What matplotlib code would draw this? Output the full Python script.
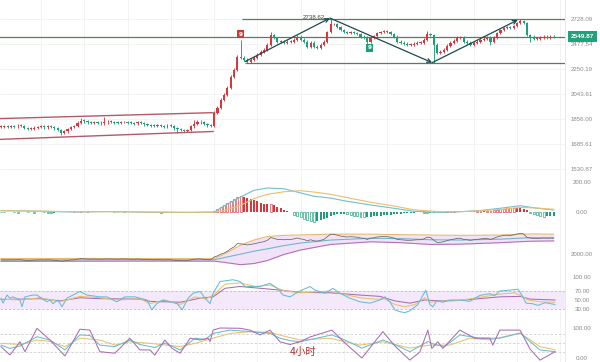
import matplotlib
matplotlib.use("Agg")
import matplotlib.pyplot as plt
from matplotlib.transforms import blended_transform_factory

# ---------------- data ----------------
closes = [
    1803, 1806, 1800, 1808, 1804, 1810, 1806,
    1792, 1785, 1788, 1795, 1800,
    1803, 1798, 1806, 1800, 1790, 1778,
    1762, 1770, 1785,
    1800, 1806,
    1830, 1845, 1840,
    1832, 1828, 1835, 1830, 1826,
    1832, 1838, 1835, 1830, 1828, 1834, 1836, 1830, 1828, 1825, 1832, 1828,
    1818, 1815, 1810, 1806, 1812, 1808, 1804, 1810, 1806,
    1790, 1783, 1778, 1772, 1780,
    1805, 1822, 1838, 1832,
    1820, 1812, 1806,
    1902, 1940, 2000, 2039, 2095, 2185, 2245, 2360, 2351, 2333,
    2315, 2333, 2351, 2378, 2405, 2424, 2471, 2566, 2537, 2500,
    2500, 2490, 2500, 2500, 2519, 2549, 2519, 2500, 2452, 2490,
    2452, 2443, 2471, 2500, 2595, 2676, 2676, 2646, 2615, 2595,
    2585, 2595, 2585, 2576, 2549, 2540, 2500, 2540, 2557, 2585,
    2595, 2605, 2595, 2576, 2549, 2500, 2490, 2480, 2471, 2471,
    2480, 2490, 2490, 2519, 2576, 2566, 2471, 2396, 2405, 2424,
    2462, 2490, 2510, 2540, 2540, 2500, 2490, 2471, 2490, 2500,
    2519, 2530, 2540, 2500, 2540, 2585, 2615, 2635, 2646, 2635,
    2656, 2687, 2707, 2687, 2566, 2549, 2530, 2530, 2540, 2549,
    2540, 2549, 2545,
]
first_open = 1800
high_marks = {24: 1866, 31: 1870, 58: 1850, 72: 2519, 81: 2590, 99: 2738,
              115: 2620, 128: 2600, 147: 2560, 156: 2725}
low_marks = {18: 1748, 53: 1760, 92: 2440, 110: 2480, 130: 2306, 131: 2380,
             147: 2470, 159: 2500}

price_ticks = [1530.87, 1685.61, 1856.00, 2043.61, 2250.19, 2477.54, 2728.09]
last_price = 2549.87
level_top = 2728.09
level_bottom = 2306
peak_label = "2738.62"

channel_x = [-0.3, 63.7]
channel_upper = [1859, 1902]
channel_lower = [1716, 1769]

arrow_x = [73.3, 98.8, 129.5, 155.2]
arrow_p = [2315, 2738, 2306, 2718]

# MACD
macd_x = [0, 12, 21, 33, 45, 57, 64, 67, 72, 76, 80, 85, 90, 94, 99, 103, 111,
          118, 124, 132, 138, 144, 150, 156, 160, 166]
dif = [10, 5, 0, 3, -2, -3, 0, 40, 100, 145, 160, 155, 127, 105, 93, 75, 47,
       25, 5, -3, 2, 10, 25, 42, 28, 13]
dea = [8, 6, 2, 2, 0, -2, -1, 10, 45, 90, 118, 135, 142, 133, 118, 100, 65,
       40, 15, 2, 2, 8, 18, 30, 28, 18]
hist = ([-2, -3, -3, -2, -3, -4, -3, -2, -3, -3, -4, -3, -2, -3, -4, -5, -4, -3, -3, -2, -2, -1]
        + [1, 2, 3, 3, 4, 4, 3, 3, 2, 2, 1, 1]
        + [-1, -2, -2, -3, -3, -2, -2, -3, -3, -2, -2, -2, -3, -3, -4, -4, -3, -3, -2]
        + [-2, -1, -1, 1, 2, 3, 3, 2, 2, 1, 2]
        + [8, 18, 30, 45, 60, 75, 88, 100, 107, 100, 92, 85, 78, 70, 63, 56, 50, 52, 45, 35, 25, 15, 8, 2]
        + [-20, -28, -35, -45, -55, -60, -65, -62]
        + [-55, -48, -40, -30]
        + [-20, -15, -12, -12, -15]
        + [-20, -25, -30, -33, -35, -35]
        + [-33, -30, -28, -25, -22, -20, -18, -15]
        + [-13, -12, -10, -8, -6, -4]
        + [-3, -2, -5, -8, -6, -4, -3, -1]
        + [2, 4, 6, 8, 8, 7, 6, 5]
        + [4, 4, 5, 6, 6, 7, 8, 10]
        + [13, 17, 20, 24, 27, 28, 27, 26, 22]
        + [12, -5, -15, -22, -28, -31, -30, -28, -25])

# Bollinger
boll_x = [0, 21, 45, 60, 64, 67, 72, 76, 80, 85, 90, 99, 111, 120, 129, 138, 150, 159, 166]
boll_up = [1850, 1852, 1848, 1845, 1850, 2000, 2310, 2480, 2600, 2640, 2655, 2680,
           2680, 2665, 2650, 2640, 2650, 2690, 2680]
boll_mid = [1800, 1805, 1808, 1805, 1805, 1880, 2000, 2100, 2180, 2290, 2380, 2480,
            2540, 2530, 2490, 2480, 2510, 2560, 2555]
boll_low = [1755, 1758, 1762, 1760, 1760, 1720, 1640, 1680, 1780, 1990, 2140, 2330,
            2420, 2390, 2330, 2340, 2390, 2440, 2450]

# RSI
rsi6_x = [0, 0.6, 1.8, 2.7, 3.6, 5.7, 6.3, 7.2, 9.6, 10.8, 13.8, 14.7, 15.6, 17.1, 18.3,
          19.8, 23.7, 25.8, 29.7, 31.8, 34.8, 37.2, 40.2, 43.8, 45.3, 46.8, 48.6, 50.8,
          52.9, 54.4, 56.2, 57.7, 59.8, 61.3, 62.8, 63.7, 65.8, 69.7, 71.8, 73.3, 77.8,
          80.8, 82.9, 84.7, 86.8, 89.8, 92.8, 94.3, 97.3, 99.7, 101.8, 104.8, 107.8,
          110.8, 113.8, 115.3, 116.8, 118.3, 119.8, 121.3, 122.8, 125.2, 126.7, 127.6,
          128.8, 129.7, 130.9, 132.7, 134.8, 137.8, 140.8, 143.8, 146.8, 148.3, 149.8,
          152.9, 155.3, 156.5, 157.7, 159.5, 161.3, 163.4, 166.4]
rsi6 = [54, 43, 61, 54, 57, 50, 35, 57, 61, 61, 46, 50, 42, 50, 35,
        54, 69, 61, 57, 57, 46, 57, 57, 50, 28, 42, 50, 46,
        42, 28, 54, 65, 69, 54, 42, 65, 91, 95, 91, 80, 80,
        87, 76, 61, 57, 70, 80, 72, 65, 76, 65, 54, 46,
        43, 50, 57, 46, 28, 24, 22, 26, 40, 60, 72,
        40, 35, 48, 45, 50, 50, 47, 60, 64, 60, 70,
        72, 74, 60, 43, 42, 38, 44, 40]
rsi12_x = [0, 5.7, 11.7, 17.7, 23.7, 29.7, 35.7, 41.7, 44.7, 49.2, 53.8, 58.3, 61.3,
           63.7, 67.3, 71.8, 76.3, 80.8, 85.3, 89.8, 94.3, 98.8, 103.3, 107.8, 112.3,
           115.3, 118.3, 121.3, 124.3, 127.3, 128.8, 131.8, 137.8, 143.8, 149.8,
           154.4, 156.5, 158.3, 161.9, 166.4]
rsi12 = [52, 50, 55, 46, 58, 55, 50, 53, 42, 50, 40, 57, 52,
         60, 85, 88, 80, 83, 70, 66, 68, 70, 62, 55, 52,
         52, 40, 35, 40, 55, 45, 47, 49, 56, 63,
         66, 58, 50, 46, 45]
rsi24_x = [0, 11.7, 17.7, 23.7, 29.7, 41.7, 44.7, 53.8, 59.8, 63.7, 67.3, 71.8, 77.8,
           83.8, 89.8, 98.8, 107.8, 113.8, 118.3, 122.8, 127.3, 131.8, 137.8, 143.8,
           149.8, 155.9, 158.9, 166.4]
rsi24 = [51, 53, 48, 55, 53, 52, 47, 45, 54, 57, 76, 80, 76,
         72, 67, 66, 61, 58, 48, 43, 50, 48, 49, 53,
         57, 58, 52, 50]

# KDJ
j_x = [0, 2.7, 5.7, 7.2, 10.8, 14.7, 19.2, 23.7, 26.7, 29.7, 34.2, 38.7, 41.7, 44.7,
       46.2, 49.2, 51.4, 53.8, 56.8, 59.8, 62.2, 62.8, 63.7, 65.8, 71.8, 74.8, 77.8,
       80.8, 83.8, 86.8, 89.8, 92.8, 99.4, 103.3, 108.4, 114.7, 118.3, 122.8, 125.8,
       128.2, 129.4, 131.2, 132.7, 137.8, 142.3, 146.8, 147.7, 149.8, 154.9, 155.9,
       158.9, 161.9, 166.4]
kdj_j = [38, 10, 54, 21, 99, 60, 7, 96, 93, 21, 16, 66, 27, 27,
         10, 60, 32, 16, 66, 60, 66, 55, 93, 100, 99, 93, 77,
         93, 54, 45, 54, 70, 93, 50, 0, 88, 40, -7, 20,
         93, 32, 54, 32, 93, 66, 66, 43, 93, 93, 93,
         30, -7, 21]
k_x = [0, 2.7, 5.7, 10.8, 14.7, 19.2, 23.7, 26.7, 29.7, 34.2, 38.7, 41.7, 46.2, 49.2,
       53.8, 58.3, 61.3, 63.7, 68.8, 74.8, 80.8, 83.8, 86.8, 89.8, 99.4, 103.3, 108.4,
       114.7, 118.3, 122.8, 128.2, 130.3, 133.3, 137.8, 143.8, 149.8, 155.9, 158.9,
       161.9, 166.4]
kdj_k = [43, 32, 40, 71, 60, 27, 77, 75, 43, 38, 60, 45, 35, 50,
         27, 66, 62, 82, 93, 88, 82, 66, 58, 54, 77, 60, 33,
         60, 45, 21, 55, 45, 38, 77, 66, 66, 83, 55,
         27, 21]
d_x = [0, 5.7, 10.8, 14.7, 19.2, 23.7, 29.7, 34.2, 38.7, 44.7, 53.8, 58.3, 63.7, 68.8,
       74.8, 80.8, 86.8, 89.8, 98.8, 107.8, 114.7, 122.8, 128.8, 134.8, 140.8, 146.8,
       155.9, 161.9, 166.4]
kdj_d = [49, 45, 60, 55, 38, 66, 60, 43, 54, 49, 38, 49, 66, 82,
         88, 85, 68, 60, 66, 43, 54, 33, 43, 43, 66, 60,
         83, 38, 27]

# ---------------- figure ----------------
W, H = 600, 362
fig = plt.figure(figsize=(W / 100, H / 100), dpi=100)
fig.patch.set_facecolor("white")
PLOT_R = 565
XLIM = (-0.3, 169.4)
LABEL_FONT = dict(family="Liberation Sans", size=4.4)
PAD = (582 - PLOT_R) * 0.72

RED = "#d9363e"
GREEN = "#1f9e7a"
GRID = "#f1f1f1"


def pane(top, bottom):
    ax = fig.add_axes([0, 1 - bottom / H, PLOT_R / W, (bottom - top) / H])
    ax.set_xlim(*XLIM)
    for s in ["top", "left", "bottom"]:
        ax.spines[s].set_visible(False)
    ax.spines["right"].set_color("#e4e4e4")
    ax.spines["right"].set_linewidth(0.6)
    ax.yaxis.tick_right()
    ax.tick_params(axis="y", length=0, pad=PAD, labelcolor="#8a8a8a")
    ax.set_xticks([])
    for gx in range(12, 170, 13):
        ax.axvline(gx, color=GRID, lw=0.6, zorder=0)
    return ax


def style_labels(ax):
    for lab in ax.get_yticklabels():
        lab.set_horizontalalignment("center")
        lab.set_fontfamily(LABEL_FONT["family"])
        lab.set_fontsize(LABEL_FONT["size"])


n = len(closes)
idx = list(range(n))
opens = [first_open] + closes[:-1]

# ---- main price pane ----
ax = pane(0, 176)
ax.set_yscale("log")
ax.set_ylim(1490.2, 2935.3)
ax.set_yticks(price_ticks)
ax.set_yticklabels([f"{t:.2f}" for t in price_ticks])
ax.yaxis.set_minor_locator(matplotlib.ticker.NullLocator())
style_labels(ax)
for t in price_ticks:
    ax.axhline(t, color=GRID, lw=0.6, zorder=0)

for i in idx:
    o, c = opens[i], closes[i]
    col = RED if c >= o else GREEN
    hi = high_marks.get(i, max(o, c) * 1.005)
    lo = low_marks.get(i, min(o, c) * 0.995)
    ax.vlines(i, lo, hi, color=col, lw=0.65, zorder=3)
    body = max(abs(c - o), 6.0)
    ax.bar(i, body, bottom=min(o, c) - (body - abs(c - o)) / 2, width=0.66,
           color=col, zorder=3, linewidth=0)

# channel
ax.plot(channel_x, channel_upper, color="#b45a66", lw=1.0, zorder=4)
ax.plot(channel_x, channel_lower, color="#b45a66", lw=1.0, zorder=4)
# horizontal levels
LEVEL = "#5e7c4c"
ax.axhline(last_price, color=LEVEL, lw=0.9, zorder=2)
ax.hlines(level_top, 72.4, XLIM[1], color=LEVEL, lw=0.9, zorder=2)
ax.hlines(level_bottom, 73.3, XLIM[1], color=LEVEL, lw=0.9, zorder=2)
# arrows
for k in range(3):
    ax.annotate("", xy=(arrow_x[k + 1], arrow_p[k + 1]),
                xytext=(arrow_x[k], arrow_p[k]),
                arrowprops=dict(arrowstyle="->", color="#1d4a4c", lw=0.9,
                                shrinkA=0, shrinkB=0, mutation_scale=7),
                zorder=5)
ax.text(97.2, 2722, peak_label, ha="right", va="bottom", color="#444444",
        fontsize=4.4, family="Liberation Sans", zorder=6)
# TD markers
ax.text(72, 2572, "9", ha="center", va="center", color="white", fontsize=4.2,
        fontweight="bold", bbox=dict(boxstyle="square,pad=0.25", fc="#cc3a3a", ec="none"),
        zorder=6)
ax.text(110.8, 2440, "9", ha="center", va="center", color="white", fontsize=4.2,
        fontweight="bold", bbox=dict(boxstyle="square,pad=0.25", fc="#1f9e7a", ec="none"),
        zorder=6)
# current price tag
tr = blended_transform_factory(ax.transAxes, ax.transData)
ax.text(582.5 / PLOT_R, last_price, f"{last_price:.2f}", transform=tr, ha="center",
        va="center", color="white", fontsize=4.6, family="Liberation Sans",
        fontweight="bold", clip_on=False, zorder=8,
        bbox=dict(boxstyle="square,pad=0.45", fc="#23a07c", ec="none"))

# ---- MACD pane ----
axm = pane(176, 225)
axm.set_ylim(-86.7, 240)
axm.set_yticks([0, 200])
axm.set_yticklabels(["0.00", "200.00"])
style_labels(axm)
prev = 0
for i, h in enumerate(hist):
    if h >= 0:
        col = RED
        hollow = h > prev
    else:
        col = GREEN
        hollow = h < prev
    hv = h if abs(h) > 1 else (1.5 if h >= 0 else -1.5)
    if hollow:
        axm.bar(i, hv, width=0.55, facecolor="white", edgecolor=col, lw=0.45, zorder=3)
    else:
        axm.bar(i, hv, width=0.6, color=col, lw=0, zorder=3)
    prev = h
axm.plot(macd_x, dif, color="#6fc0cf", lw=0.8, zorder=4)
axm.plot(macd_x, dea, color="#e9bf6e", lw=0.8, zorder=4)

# ---- Bollinger pane ----
axb = pane(225, 276)
axb.set_ylim(1254, 2993)
axb.set_yticks([2000])
axb.set_yticklabels(["2000.00"])
style_labels(axb)
axb.fill_between(boll_x, boll_low, boll_up, color="#f2e2f8", lw=0, zorder=1)
axb.plot(boll_x, boll_up, color="#e9b96c", lw=0.8, zorder=3)
axb.plot(boll_x, boll_mid, color="#6cb9c9", lw=0.8, zorder=3)
axb.plot(boll_x, boll_low, color="#b46fba", lw=0.8, zorder=3)
axb.plot(idx, closes, color="#666666", lw=0.55, zorder=4)

# ---- RSI pane ----
axr = pane(276, 313)
axr.set_ylim(21.1, 103.3)
axr.set_yticks([30, 50, 70, 100])
axr.set_yticklabels(["30.00", "50.00", "70.00", "100.00"])
style_labels(axr)
axr.axhspan(30, 70, color="#f4e8fb", lw=0, zorder=0)
for lv in (30, 70):
    axr.axhline(lv, color="#c9b4d4", lw=0.6, ls=(0, (3, 2)), zorder=1)
axr.plot(rsi24_x, rsi24, color="#a86cb4", lw=0.75, zorder=3)
axr.plot(rsi12_x, rsi12, color="#e9c06e", lw=0.75, zorder=3)
axr.plot(rsi6_x, rsi6, color="#66bdd0", lw=0.75, zorder=3)

# ---- KDJ pane ----
axk = pane(313, 362)
axk.set_ylim(-13.3, 150)
axk.set_yticks([0, 100])
axk.set_yticklabels(["0.00", "100.00"])
style_labels(axk)
for lv in (20, 50, 80):
    axk.axhline(lv, color="#cfcfcf", lw=0.6, ls=(0, (3, 2)), zorder=1)
axk.plot(d_x, kdj_d, color="#e9c06e", lw=0.75, zorder=3)
axk.plot(k_x, kdj_k, color="#66bdd0", lw=0.75, zorder=3)
axk.plot(j_x, kdj_j, color="#a86cb4", lw=0.75, zorder=3)

fig.text(303 / W, 1 - 352 / H, "4小时", ha="center", va="center", color="#a83232",
         fontsize=7.5, family=["Noto Sans CJK SC", "DejaVu Sans"])

fig.savefig("out.png", dpi=100, facecolor="white")
